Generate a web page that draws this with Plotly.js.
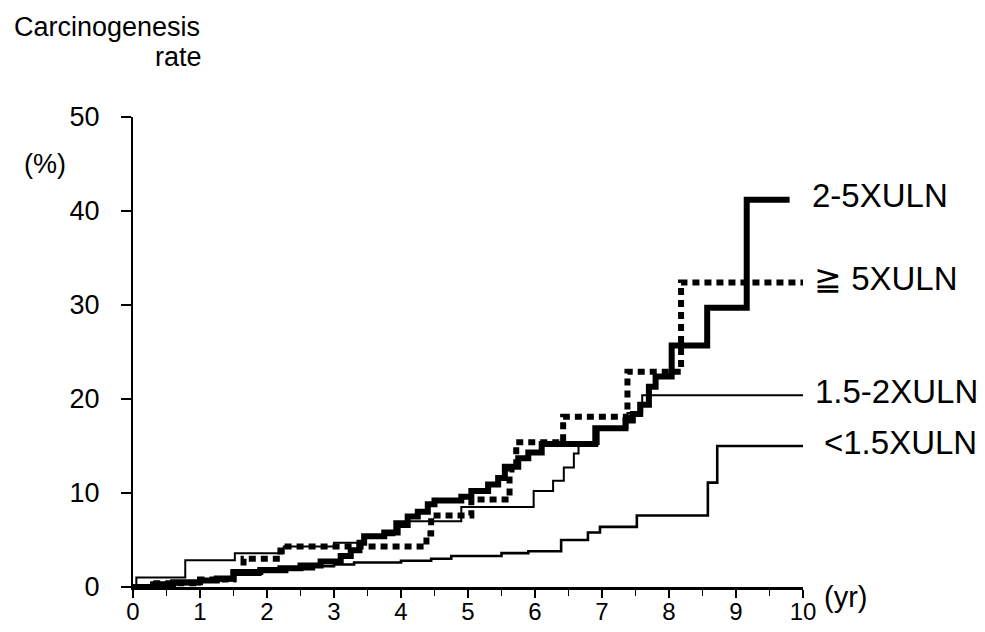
<!DOCTYPE html>
<html><head><meta charset="utf-8">
<script src="https://cdn.plot.ly/plotly-3.0.1.min.js"></script>
<style>html,body{margin:0;padding:0;background:#fff;} #chart{width:985px;height:632px;}</style>
</head><body><div id="chart"></div>
<script>
// ---- data ----
const xTickVals = [0,1,2,3,4,5,6,7,8,9,10];
const xTickText = ["0","1","2","3","4","5","6","7","8","9","10"];
const yTickVals = [0,10,20,30,40,50];
const yTickText = ["0","10","20","30","40","50"];

const seriesNames = ["2-5XULN", "\u2267 5XULN", "1.5-2XULN", "<1.5XULN"];

// 2-5XULN (thick solid)
const years_2to5 = [0,0.3,0.6,1.0,1.25,1.5,1.9,2.2,2.5,2.8,3.1,3.25,3.38,3.45,3.75,3.95,4.1,4.25,4.4,4.5,4.9,5.05,5.3,5.45,5.55,5.75,5.9,6.1,6.9,7.35,7.46,7.57,7.7,7.8,8.04,8.57,9.16,9.8];
const rate_2to5  = [0,0.3,0.5,0.7,0.9,1.6,1.8,2.0,2.3,2.7,3.3,3.9,4.7,5.4,5.8,6.6,7.5,8.0,8.8,9.2,9.6,10.2,10.9,11.6,12.8,13.7,14.3,15.2,16.9,17.7,18.4,19.4,21.3,22.4,25.7,29.7,41.2,41.2];

// >=5XULN (thick dotted)
const years_ge5 = [0,0.3,1.0,1.5,1.65,2.2,4.38,4.45,5.05,5.62,5.72,6.42,7.38,8.18,10];
const rate_ge5  = [0,0.4,0.8,1.5,3.0,4.3,5.7,7.6,9.3,12.5,15.4,18.1,22.9,32.4,32.4];

// 1.5-2XULN (thin)
const years_15to2 = [0,0.05,0.78,1.52,2.25,3.0,3.45,3.9,4.9,5.98,6.27,6.43,6.58,6.65,6.95,7.38,7.6,10];
const rate_15to2  = [0,1.0,2.85,3.6,4.3,4.7,5.5,7.0,8.5,10.2,11.3,12.7,14.2,15.2,16.9,18.5,20.4,20.4];

// <1.5XULN (thin)
const years_lt15 = [0,0.4,1.0,1.5,1.9,2.3,2.7,3.0,3.3,4.0,4.45,4.75,5.5,5.9,6.39,6.79,6.97,7.52,8.58,8.72,10];
const rate_lt15  = [0,0.3,0.7,1.3,1.6,1.9,2.2,2.4,2.6,2.8,3.0,3.3,3.6,3.8,5.0,5.8,6.4,7.6,11.1,15.0,15.0];

// ---- chart ----
const FONT = "Liberation Sans, Arial, Helvetica, sans-serif";
const black = "#000";

const traces = [
  {x: years_lt15, y: rate_lt15, name: seriesNames[3], mode: "lines",
   line: {shape: "hv", color: black, width: 2.6}},
  {x: years_15to2, y: rate_15to2, name: seriesNames[2], mode: "lines",
   line: {shape: "hv", color: black, width: 2}},
  {x: years_ge5, y: rate_ge5, name: seriesNames[1], mode: "lines",
   line: {shape: "hv", color: black, width: 6, dash: "7px,5px"}},
  {x: years_2to5, y: rate_2to5, name: seriesNames[0], mode: "lines",
   line: {shape: "hv", color: black, width: 6}}
];

function endVal(arr){ return arr[arr.length-1]; }
const labelLeftPx = [810, 812, 813, 822];
const labelEnds = [endVal(rate_2to5), endVal(rate_ge5), endVal(rate_15to2), endVal(rate_lt15)];

const annotations = [
  {text: "Carcinogenesis", xref: "paper", yref: "paper", x: (12-133)/670, y: (587-27)/470,
   xanchor: "left", yanchor: "middle", showarrow: false, font: {family: FONT, size: 27, color: black}},
  {text: "rate", xref: "paper", yref: "paper", x: (204-133)/670, y: (587-57)/470,
   xanchor: "right", yanchor: "middle", showarrow: false, font: {family: FONT, size: 27, color: black}},
  {text: "(%)", xref: "paper", yref: "paper", x: (22-133)/670, y: (587-164)/470,
   xanchor: "left", yanchor: "middle", showarrow: false, font: {family: FONT, size: 27, color: black}},
  {text: "(yr)", xref: "paper", yref: "paper", x: (822-133)/670, y: (587-597)/470,
   xanchor: "left", yanchor: "middle", showarrow: false, font: {family: FONT, size: 29, color: black}}
];
seriesNames.forEach((nm, i) => {
  annotations.push({text: nm, xref: "paper", yref: "y", x: (labelLeftPx[i]-133)/670, y: labelEnds[i],
    yshift: 4, xanchor: "left", yanchor: "middle", showarrow: false,
    font: {family: FONT, size: 33, color: black}});
});

const layout = {
  width: 985, height: 632,
  margin: {l: 133, r: 182, t: 117, b: 45, pad: 0},
  paper_bgcolor: "#fff", plot_bgcolor: "#fff",
  showlegend: false,
  font: {family: FONT, color: black, size: 27},
  xaxis: {range: [0, 10], tickvals: xTickVals, ticktext: xTickText,
    ticks: "outside", ticklen: 8, tickwidth: 2.5, tickcolor: black,
    minor: {dtick: 0.5, tick0: 0, ticks: "outside", ticklen: 6, tickwidth: 1.5, tickcolor: black, showgrid: false},
    showline: true, linewidth: 2.5, linecolor: black, showgrid: false, zeroline: false,
    ticklabelstandoff: -6,
    tickfont: {family: FONT, size: 24, color: black}},
  yaxis: {range: [0, 50], tickvals: yTickVals, ticktext: yTickText,
    ticks: "outside", ticklen: 10, tickwidth: 1.8, tickcolor: black,
    showline: true, linewidth: 2, linecolor: black, showgrid: false, zeroline: false,
    ticklabelstandoff: 16,
    tickfont: {family: FONT, size: 27, color: black}},
  annotations: annotations
};

Plotly.newPlot("chart", traces, layout, {staticPlot: true, displayModeBar: false});
</script>
</body></html>
